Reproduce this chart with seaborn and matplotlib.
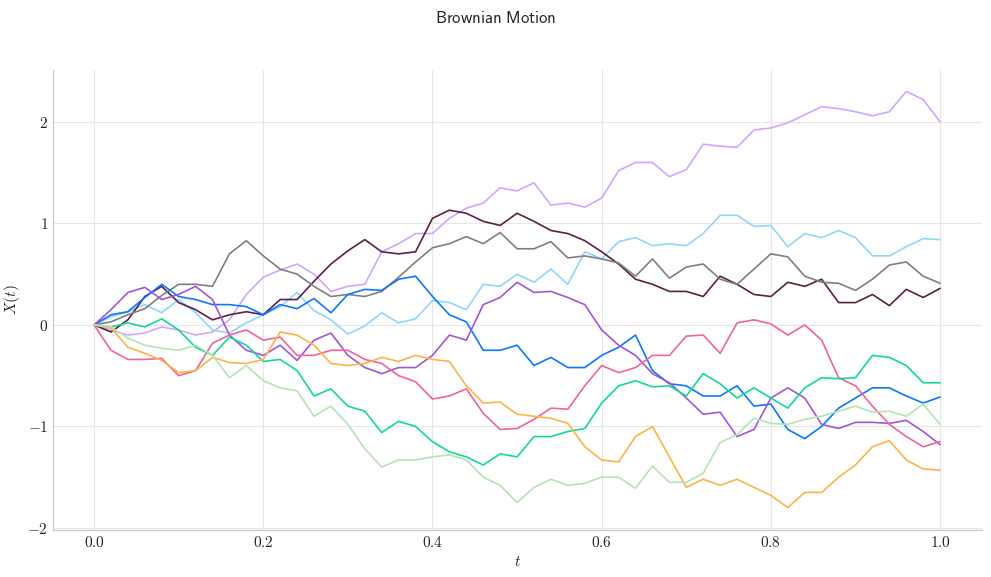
import numpy as np
import pandas as pd
import seaborn as sns
import matplotlib.pyplot as plt
from matplotlib.ticker import FuncFormatter

# time grid (every 0.02)
t = np.round(np.arange(0, 1.0001, 0.02), 2)

# paths
lavender = [0, -0.05, -0.1, -0.08, -0.02, -0.05, -0.1, -0.07, 0.05, 0.3, 0.47,
            0.54, 0.6, 0.5, 0.33, 0.38, 0.4, 0.72, 0.8, 0.9, 0.9,
            1.05, 1.15, 1.2, 1.35, 1.32, 1.4, 1.18, 1.2, 1.16, 1.25,
            1.52, 1.6, 1.6, 1.46, 1.53, 1.78, 1.76, 1.75, 1.92, 1.94,
            1.99, 2.07, 2.15, 2.13, 2.1, 2.06, 2.1, 2.3, 2.22, 2.0]
light_blue = [0, 0.08, 0.13, 0.2, 0.12, 0.25, 0.12, -0.05, -0.08, 0.02, 0.1,
              0.18, 0.32, 0.14, 0.05, -0.09, -0.01, 0.12, 0.02, 0.06, 0.24,
              0.22, 0.15, 0.4, 0.38, 0.5, 0.42, 0.55, 0.4, 0.72, 0.65,
              0.82, 0.86, 0.78, 0.8, 0.78, 0.9, 1.08, 1.08, 0.97, 0.98,
              0.77, 0.9, 0.86, 0.93, 0.86, 0.68, 0.68, 0.77, 0.85, 0.84]
maroon = [0, -0.07, 0.05, 0.28, 0.38, 0.22, 0.15, 0.05, 0.1, 0.13, 0.1,
          0.25, 0.25, 0.43, 0.6, 0.73, 0.84, 0.72, 0.7, 0.72, 1.05,
          1.13, 1.1, 1.02, 0.98, 1.1, 1.02, 0.93, 0.9, 0.83, 0.72,
          0.6, 0.45, 0.4, 0.33, 0.33, 0.28, 0.48, 0.4, 0.3, 0.28,
          0.42, 0.38, 0.45, 0.22, 0.22, 0.3, 0.19, 0.35, 0.27, 0.36]
gray = [0, 0.03, 0.1, 0.16, 0.29, 0.4, 0.4, 0.38, 0.7, 0.83, 0.68,
        0.55, 0.5, 0.38, 0.28, 0.3, 0.28, 0.33, 0.47, 0.62, 0.76,
        0.8, 0.87, 0.8, 0.91, 0.75, 0.75, 0.82, 0.66, 0.68, 0.65,
        0.61, 0.48, 0.65, 0.46, 0.57, 0.6, 0.45, 0.4, 0.55, 0.7,
        0.67, 0.48, 0.42, 0.41, 0.34, 0.45, 0.59, 0.62, 0.48, 0.41]
blue = [0, 0.1, 0.13, 0.27, 0.4, 0.28, 0.25, 0.2, 0.2, 0.18, 0.1,
        0.2, 0.16, 0.26, 0.12, 0.3, 0.35, 0.34, 0.45, 0.48, 0.28,
        0.1, 0.03, -0.25, -0.25, -0.2, -0.4, -0.32, -0.42, -0.42, -0.3,
        -0.22, -0.1, -0.45, -0.58, -0.6, -0.7, -0.7, -0.6, -0.8, -0.78,
        -1.03, -1.12, -1.0, -0.82, -0.72, -0.62, -0.62, -0.7, -0.77, -0.71]
purple = [0, 0.15, 0.32, 0.37, 0.25, 0.3, 0.38, 0.25, -0.1, -0.25, -0.3,
          -0.2, -0.35, -0.15, -0.08, -0.3, -0.42, -0.48, -0.42, -0.42, -0.3,
          -0.1, -0.15, 0.2, 0.27, 0.42, 0.32, 0.33, 0.27, 0.2, -0.05,
          -0.2, -0.3, -0.48, -0.57, -0.72, -0.88, -0.86, -1.1, -1.03, -0.72,
          -0.62, -0.72, -0.98, -1.02, -0.96, -0.96, -0.97, -0.94, -1.05, -1.18]
pink = [0, -0.25, -0.34, -0.34, -0.33, -0.5, -0.45, -0.18, -0.1, -0.05, -0.15,
        -0.12, -0.3, -0.3, -0.25, -0.25, -0.34, -0.38, -0.5, -0.56, -0.73,
        -0.7, -0.63, -0.87, -1.03, -1.02, -0.93, -0.82, -0.83, -0.6, -0.4,
        -0.47, -0.42, -0.3, -0.3, -0.11, -0.1, -0.28, 0.02, 0.05, 0.01,
        -0.1, 0.0, -0.15, -0.52, -0.6, -0.8, -0.98, -1.1, -1.2, -1.15]
green = [0, -0.02, 0.02, -0.02, 0.06, -0.05, -0.22, -0.3, -0.12, -0.2, -0.36,
         -0.34, -0.45, -0.7, -0.63, -0.8, -0.85, -1.06, -0.95, -1.0, -1.15,
         -1.25, -1.3, -1.38, -1.27, -1.3, -1.1, -1.1, -1.05, -1.02, -0.77,
         -0.6, -0.55, -0.61, -0.6, -0.7, -0.48, -0.58, -0.72, -0.62, -0.72,
         -0.82, -0.62, -0.52, -0.53, -0.52, -0.3, -0.32, -0.4, -0.57, -0.57]
orange = [0, -0.03, -0.22, -0.28, -0.35, -0.47, -0.45, -0.32, -0.37, -0.38, -0.34,
          -0.07, -0.1, -0.2, -0.38, -0.4, -0.38, -0.32, -0.36, -0.3, -0.34,
          -0.36, -0.6, -0.77, -0.76, -0.88, -0.9, -0.92, -0.97, -1.2, -1.33,
          -1.35, -1.1, -1.0, -1.3, -1.6, -1.52, -1.58, -1.52, -1.6, -1.68,
          -1.8, -1.65, -1.65, -1.5, -1.38, -1.2, -1.14, -1.33, -1.42, -1.43]
light_green = [0, -0.02, -0.13, -0.2, -0.23, -0.25, -0.2, -0.3, -0.52, -0.4, -0.55,
               -0.62, -0.65, -0.9, -0.8, -0.98, -1.22, -1.4, -1.33, -1.33, -1.3,
               -1.28, -1.33, -1.5, -1.58, -1.75, -1.6, -1.52, -1.58, -1.56, -1.5,
               -1.5, -1.61, -1.39, -1.55, -1.55, -1.46, -1.16, -1.08, -0.92, -0.97,
               -0.98, -0.93, -0.9, -0.85, -0.8, -0.86, -0.85, -0.9, -0.78, -0.98]

paths = {"lavender": lavender, "light_blue": light_blue, "maroon": maroon,
         "gray": gray, "blue": blue, "purple": purple, "pink": pink,
         "green": green, "orange": orange, "light_green": light_green}
colors = ["#d2a6ff", "#90d6f8", "#5c1f45", "#7f7f7f", "#0a78ff",
          "#a355d6", "#f062a0", "#12d898", "#ffb347", "#b4e4b4"]

df = pd.concat([pd.DataFrame({"t": t, "X": v, "path": k}) for k, v in paths.items()])

sns.set_theme(style="whitegrid")
plt.rcParams["font.family"] = ["DejaVu Serif"]
plt.rcParams["mathtext.fontset"] = "cm"

fig = plt.figure(figsize=(9.91, 5.77), dpi=100)
ax = fig.add_axes([0.0535, 0.0815, 0.9375, 0.797])
sns.lineplot(data=df, x="t", y="X", hue="path", palette=colors,
             linewidth=1.2, legend=False, ax=ax)

ax.set_xlim(-0.0485, 1.0496)
ax.set_ylim(-2.02, 2.51)
ax.set_yticks([-2, -1, 0, 1, 2])
ax.xaxis.set_major_formatter(FuncFormatter(lambda v, p: f"${v:.1f}$"))
ax.yaxis.set_major_formatter(FuncFormatter(lambda v, p: f"${v:.0f}$"))

ax.set_xlabel("$t$", fontsize=11)
ax.set_ylabel("$X(t)$", fontsize=11)
ax.tick_params(labelsize=11, length=0)
ax.grid(color="#e6e6e6", linewidth=0.8)
for s in ["top", "right"]:
    ax.spines[s].set_visible(False)
for s in ["left", "bottom"]:
    ax.spines[s].set_color("#cccccc")
    ax.spines[s].set_linewidth(1.0)

fig.suptitle(r"$\mathsf{Brownian\ Motion}$", fontsize=12, y=0.982)
plt.savefig("out.png", dpi=100)
